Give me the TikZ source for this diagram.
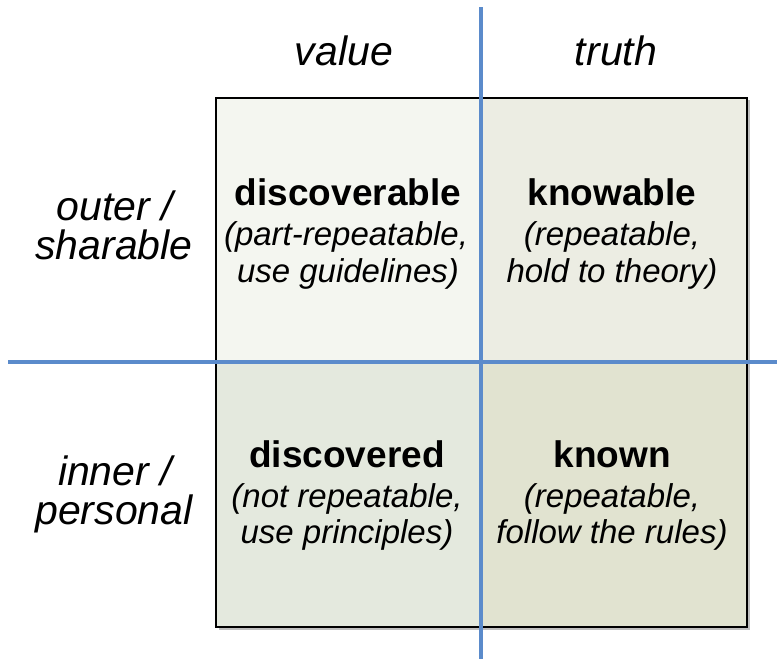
\documentclass[tikz,border=0pt]{standalone}
\usepackage{fontspec}
\setmainfont{Liberation Sans}
\begin{document}
\begin{tikzpicture}[x=1pt,y=-1pt,
  hdr/.style={anchor=base,font=\fontsize{41}{41}\selectfont\itshape,inner sep=0},
  ttl/.style={anchor=base,font=\fontsize{37}{37}\selectfont\bfseries,inner sep=0},
  sub/.style={anchor=base,font=\fontsize{33}{33}\selectfont\itshape,inner sep=0},
  axis/.style={draw=axisblue,line width=3.5pt},
  cell/.style={draw=none}]
\definecolor{axisblue}{HTML}{5B8BCB}
\definecolor{ctl}{HTML}{F4F6F0}
\definecolor{ctr}{HTML}{ECEDE3}
\definecolor{cbl}{HTML}{E4E9DE}
\definecolor{cbr}{HTML}{E1E3D0}
\useasboundingbox (0,0) rectangle (783,664);
% shadow
\fill[black!25] (219,100) rectangle (750,630);
% cells
\fill[ctl] (216,98) rectangle (481,362);
\fill[ctr] (481,98) rectangle (747,362);
\fill[cbl] (216,362) rectangle (481,627);
\fill[cbr] (481,362) rectangle (747,627);
\draw[black,line width=1.6pt] (216,98) rectangle (747,627);
% axes
\coordinate (vt) at (481,7);
\coordinate (vb) at (481,659);
\coordinate (hl) at (8,362);
\coordinate (hr) at (777,362);
\draw[axis] (vt) -- (vb);
\draw[axis] (hl) -- (hr);
% headers
\node[hdr] (hv) at (344,65) {value};
\node[hdr] (ht) at (616,65) {truth};
\node[hdr] (so1) at (115,220) {outer /};
\node[hdr] (so2) at (114,259) {sharable};
\node[hdr] (si1) at (115,485) {inner /};
\node[hdr] (si2) at (114,524) {personal};
% cells text
\node[ttl] (t1) at (348,205) {discoverable};
\node[sub] (t1a) at (346,245) {(part-repeatable,};
\node[sub] (t1b) at (348,282) {use guidelines)};
\node[ttl] (t2) at (612,205) {knowable};
\node[sub] (t2a) at (612,245) {(repeatable,};
\node[sub] (t2b) at (612,282) {hold to theory)};
\node[ttl] (t3) at (347,467) {discovered};
\node[sub] (t3a) at (347,507) {(not repeatable,};
\node[sub] (t3b) at (347,543) {use principles)};
\node[ttl] (t4) at (612,467) {known};
\node[sub] (t4a) at (612,507) {(repeatable,};
\node[sub] (t4b) at (612,543) {follow the rules)};
\end{tikzpicture}
\end{document}
